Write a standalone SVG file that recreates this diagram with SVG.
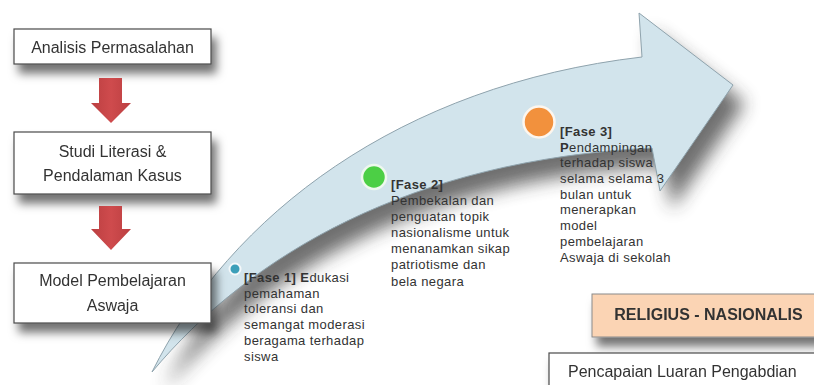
<svg xmlns="http://www.w3.org/2000/svg" width="814" height="385" viewBox="0 0 814 385">
  <defs>
    <filter id="boxShadow" x="-20%" y="-30%" width="150%" height="190%">
      <feGaussianBlur in="SourceAlpha" stdDeviation="5"/>
      <feOffset dx="5" dy="9" result="b"/>
      <feFlood flood-color="#000" flood-opacity="0.55"/>
      <feComposite in2="b" operator="in"/>
      <feMerge><feMergeNode/><feMergeNode in="SourceGraphic"/></feMerge>
    </filter>
    <filter id="arrowShadow" x="-20%" y="-20%" width="150%" height="150%">
      <feGaussianBlur stdDeviation="9"/>
    </filter>
    <linearGradient id="redGrad" x1="0" y1="0" x2="1" y2="0">
      <stop offset="0" stop-color="#bb3f41"/>
      <stop offset="0.5" stop-color="#cf4b4d"/>
      <stop offset="1" stop-color="#bb3f41"/>
    </linearGradient>
    <style>
      .box { fill: #ffffff; stroke: #4a4a4a; stroke-width: 1.2; }
      .btxt { font-family: "Liberation Sans", Arial, sans-serif; font-size: 16px; fill: #333333; text-anchor: middle; }
      .ptxt { font-family: "Liberation Sans", Arial, sans-serif; font-size: 13px; letter-spacing: 0.4px; fill: #333333; }
      .b { font-weight: bold; }
      .red { fill: url(#redGrad); }
    </style>
  </defs>

  <rect width="814" height="385" fill="#ffffff"/>

  <!-- Big curved timeline arrow -->
  <g id="timeline-arrow">
    <path transform="translate(12,18)" filter="url(#arrowShadow)" fill="#333333" opacity="0.7"
      d="M152,372 C230,215 400,85 642,57 L639,13 L733,85 L660,191 L652,148 C410,160 250,255 152,372 Z"/>
    <path fill="#d2e4ec" stroke="#8fa3ad" stroke-width="1"
      d="M152,372 C230,215 400,85 642,57 L639,13 L733,85 L660,191 L652,148 C410,160 250,255 152,372 Z"/>
  </g>

  <!-- Left process boxes -->
  <g id="box1" filter="url(#boxShadow)">
    <rect class="box" x="14" y="29" width="197" height="35"/>
    <text class="btxt" x="112.5" y="53">Analisis Permasalahan</text>
  </g>
  <g id="box2" filter="url(#boxShadow)">
    <rect class="box" x="14" y="132" width="197" height="62"/>
    <text class="btxt" x="112.5" y="157">Studi Literasi &amp;</text>
    <text class="btxt" x="112.5" y="181">Pendalaman Kasus</text>
  </g>
  <g id="box3" filter="url(#boxShadow)">
    <rect class="box" x="14" y="263" width="197" height="60"/>
    <text class="btxt" x="112.5" y="286">Model Pembelajaran</text>
    <text class="btxt" x="112.5" y="311">Aswaja</text>
  </g>

  <!-- Connectors (red down arrows) -->
  <g id="connectors">
    <path class="red" d="M99,78 H122 V103 H131 L111,123 L91,103 H99 Z"/>
    <path class="red" d="M99,206 H122 V229 H131 L111,250 L91,229 H99 Z"/>
  </g>

  <!-- Phases -->
  <g id="fase1">
    <circle cx="235" cy="269" r="5.5" fill="#3c9fb9" stroke="#f4f8fa" stroke-width="2"/>
    <text class="ptxt" x="244" y="282"><tspan class="b">[Fase 1] E</tspan>dukasi</text>
    <text class="ptxt" x="244" y="297.5">pemahaman</text>
    <text class="ptxt" x="244" y="313">toleransi dan</text>
    <text class="ptxt" x="244" y="329">semangat moderasi</text>
    <text class="ptxt" x="244" y="345">beragama terhadap</text>
    <text class="ptxt" x="244" y="360.5">siswa</text>
  </g>
  <g id="fase2">
    <circle cx="374" cy="177" r="12" fill="#4ccf45" stroke="#eef8ee" stroke-width="2.5"/>
    <text class="ptxt b" x="391" y="189">[Fase 2]</text>
    <text class="ptxt" x="391" y="205">Pembekalan dan</text>
    <text class="ptxt" x="391" y="221">penguatan topik</text>
    <text class="ptxt" x="391" y="237">nasionalisme untuk</text>
    <text class="ptxt" x="391" y="253">menanamkan sikap</text>
    <text class="ptxt" x="391" y="269">patriotisme dan</text>
    <text class="ptxt" x="391" y="286">bela negara</text>
  </g>
  <g id="fase3">
    <circle cx="539" cy="122" r="15.5" fill="#f2913d" stroke="#fdf6ee" stroke-width="2.5"/>
    <text class="ptxt b" x="560" y="136">[Fase 3]</text>
    <text class="ptxt" x="560" y="151.5"><tspan class="b">P</tspan>endampingan</text>
    <text class="ptxt" x="560" y="167">terhadap siswa</text>
    <text class="ptxt" x="560" y="183">selama selama 3</text>
    <text class="ptxt" x="560" y="198.5">bulan untuk</text>
    <text class="ptxt" x="560" y="214">menerapkan</text>
    <text class="ptxt" x="560" y="230">model</text>
    <text class="ptxt" x="560" y="246">pembelajaran</text>
    <text class="ptxt" x="560" y="262">Aswaja di sekolah</text>
  </g>

  <!-- Outcome boxes -->
  <g id="religius" filter="url(#boxShadow)">
    <rect x="592" y="294" width="240" height="43" fill="#fbd4b4" stroke="#8a8a8a" stroke-width="1"/>
    <text class="btxt b" x="708.5" y="320">RELIGIUS - NASIONALIS</text>
  </g>
  <g id="pencapaian" filter="url(#boxShadow)">
    <rect class="box" x="549" y="353" width="280" height="45"/>
    <text class="btxt" x="568" y="377" style="text-anchor:start">Pencapaian Luaran Pengabdian</text>
  </g>
</svg>
